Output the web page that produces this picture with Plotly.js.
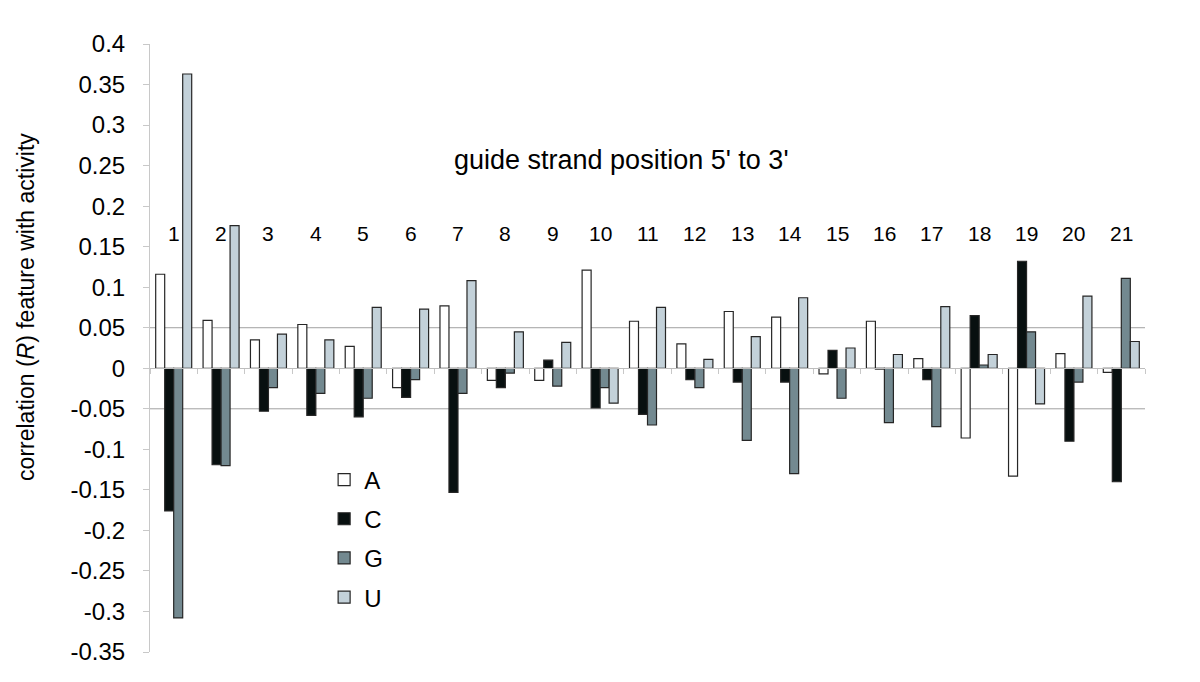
<!DOCTYPE html>
<html>
<head>
<meta charset="utf-8">
<script src="https://cdn.plot.ly/plotly-3.0.1.min.js"></script>
<style>
  html, body { margin: 0; padding: 0; background: #fff; }
  #plot { width: 1200px; height: 682px; }
</style>
</head>
<body>
<div id="plot"></div>
<script>
// guide strand positions 1..21
const positions = [1, 2, 3, 4, 5, 6, 7, 8, 9, 10, 11, 12, 13, 14, 15, 16, 17, 18, 19, 20, 21];

// correlation (R) per nucleotide
const valuesA = [0.116, 0.059, 0.035, 0.054, 0.027, -0.024, 0.077, -0.015, -0.015, 0.121, 0.058,
                 0.030, 0.070, 0.063, -0.007, 0.058, 0.012, -0.086, -0.133, 0.018, -0.005];
const valuesC = [-0.176, -0.119, -0.053, -0.058, -0.060, -0.036, -0.153, -0.024, 0.010, -0.049, -0.057,
                 -0.014, -0.017, -0.017, 0.022, -0.001, -0.014, 0.065, 0.132, -0.090, -0.140];
const valuesG = [-0.308, -0.120, -0.024, -0.031, -0.037, -0.014, -0.031, -0.006, -0.022, -0.024, -0.070,
                 -0.024, -0.089, -0.130, -0.037, -0.067, -0.072, 0.004, 0.045, -0.017, 0.111];
const valuesU = [0.363, 0.176, 0.042, 0.035, 0.075, 0.073, 0.108, 0.045, 0.032, -0.043, 0.075,
                 0.011, 0.039, 0.087, 0.025, 0.017, 0.076, 0.017, -0.044, 0.089, 0.033];

const yTickLabels = ['0.4', '0.35', '0.3', '0.25', '0.2', '0.15', '0.1', '0.05', '0',
                     '-0.05', '-0.1', '-0.15', '-0.2', '-0.25', '-0.3', '-0.35'];
const gridValues = [0.05, -0.05];

const font = 'Arial, "Liberation Sans", sans-serif';
const outline = { color: '#262626', width: 1.2 };

function series(name, values, color) {
    return {
        name: name,
        type: 'bar',
        x: positions,
        y: values,
        legendgroup: name,
        marker: { color: color, line: outline },
        hoverinfo: 'x+y+name'
    };
}

const traces = [
    series('A', valuesA, '#ffffff'),
    series('C', valuesC, '#081010'),
    series('G', valuesG, '#738990'),
    series('U', valuesU, '#c3d1d9')
];

const labelAnnotations = positions.map(p => ({
    x: p, xref: 'x',
    y: 0.689, yref: 'paper',
    yanchor: 'middle',
    text: String(p),
    showarrow: false,
    font: { family: font, size: 21, color: '#000' }
}));

const layout = {
    width: 1200,
    height: 682,
    margin: { l: 150, r: 55, t: 44, b: 30 },
    paper_bgcolor: '#fff',
    plot_bgcolor: '#fff',
    barmode: 'group',
    bargap: 0.24,
    bargroupgap: 0,
    font: { family: font, color: '#000' },
    showlegend: true,
    legend: {
        x: 0.175, y: 0.32, xanchor: 'left', yanchor: 'top',
        font: { family: font, size: 24, color: '#000' },
        tracegroupgap: 5,
        bgcolor: 'rgba(0,0,0,0)'
    },
    xaxis: {
        range: [0.5, 21.5],
        anchor: 'free',
        position: 0.35 / 0.75,
        tickvals: positions.map(p => p - 0.5).concat([21.5]),
        showticklabels: false,
        ticks: 'outside',
        ticklen: 5,
        tickcolor: '#c8c8c8',
        showline: true,
        linecolor: '#bdbdbd',
        linewidth: 1,
        showgrid: false,
        zeroline: false,
        fixedrange: true
    },
    yaxis: {
        range: [-0.35, 0.4],
        tickvals: yTickLabels.map(Number),
        ticktext: yTickLabels,
        ticks: 'outside',
        ticklen: 6,
        tickcolor: '#c8c8c8',
        ticklabelstandoff: 13,
        tickfont: { family: font, size: 24, color: '#000' },
        showline: true,
        linecolor: '#c8c8c8',
        showgrid: false,
        zeroline: true,
        zerolinecolor: '#bdbdbd',
        zerolinewidth: 1,
        automargin: false
    },
    shapes: gridValues.map(v => ({
        type: 'line', layer: 'below',
        xref: 'paper', x0: 0, x1: 1,
        yref: 'y', y0: v, y1: v,
        line: { color: '#a0a0a0', width: 1 }
    })),
    annotations: labelAnnotations.concat([
        {
            x: 0.474, xref: 'paper',
            y: 0.8095, yref: 'paper',
            yanchor: 'middle',
            text: "guide strand position 5' to 3'",
            showarrow: false,
            font: { family: font, size: 27, color: '#000' }
        },
        {
            // y-axis title, sits above the axis middle as in the original
            x: 0, xref: 'paper', xanchor: 'center', xshift: -124,
            y: 0.5676, yref: 'paper', yanchor: 'middle',
            textangle: -90,
            text: 'correlation (<i>R</i>) feature with activity',
            showarrow: false,
            font: { family: font, size: 23, color: '#000' }
        }
    ])
};

Plotly.newPlot(document.getElementById('plot'), traces, layout, { displayModeBar: false });
</script>
</body>
</html>
